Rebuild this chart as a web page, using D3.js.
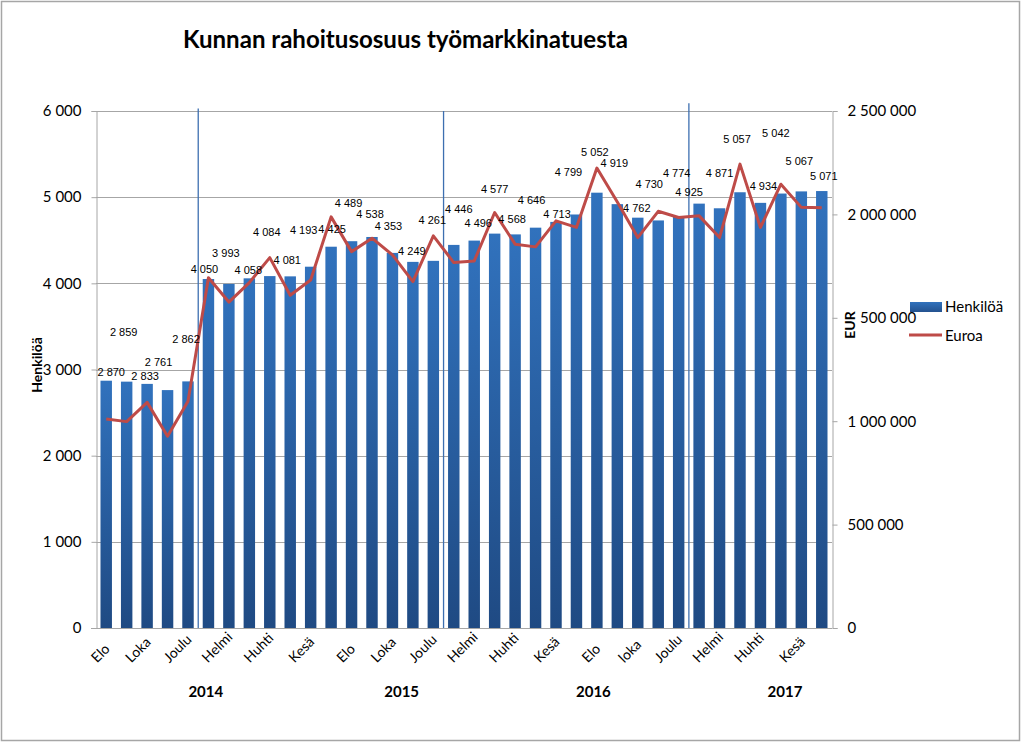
<!DOCTYPE html>
<html><head><meta charset="utf-8">
<script src="https://cdn.jsdelivr.net/npm/d3@7"></script>
<style>body{margin:0;background:#fff} svg{display:block}</style>
</head><body><svg id="c" width="1024" height="743"></svg>
<script>
// ---- data ----
const months = ["Elo","Syys","Loka","Marras","Joulu","Tammi","Helmi","Maalis","Huhti","Touko","Kesä","Heinä",
                "Elo","Syys","Loka","Marras","Joulu","Tammi","Helmi","Maalis","Huhti","Touko","Kesä","Heinä",
                "Elo","Syys","loka","Marras","Joulu","Tammi","Helmi","Maalis","Huhti","Touko","Kesä","Heinä"];
const henkiloa = [2870,2859,2833,2761,2862,4050,3993,4058,4084,4081,4193,4425,
                  4489,4538,4353,4249,4261,4446,4496,4577,4568,4646,4713,4799,
                  5052,4919,4762,4730,4774,4925,4871,5057,4934,5042,5067,5071];
const euroa = [1011000,998000,1091000,927000,1096000,1694000,1576000,1670000,1791000,1609000,1683000,1988000,
               1820000,1885000,1804000,1675000,1896000,1767000,1775000,2009000,1856000,1843000,1969000,1937000,
               2224000,2060000,1888000,2015000,1985000,1993000,1888000,2243000,1937000,2146000,2034000,2032000];
const years = ["2014","2015","2016","2017"];
const leftTicks = [0,1000,2000,3000,4000,5000,6000];
const rightTicks = [0,500000,1000000,1500000,2000000,2500000];
const seriesNames = ["Henkilöä","Euroa"];
const titleText = "Kunnan rahoitusosuus työmarkkinatuesta";

// ---- layout (placement of annotations, not data) ----
const yearAt = [4.87, 14.45, 23.83, 33.2];          // category index where year label sits
const separatorsAfter = [4, 16, 28];                  // year boundary after this category
const separatorTop = [6030, 6000, 6090];              // top of separator, left-axis units
const labelLevel = [2971,3435,2924,3087,3354,4166,4352,4155,4596,4271,4619,4630,
                    4932,4805,4666,4376,4736,4863,4700,5095,4747,4968,4805,5293,
                    5524,5397,4875,5153,5281,5060,5281,5675,5130,5745,5420,5245];
const labelNudge = [5,-3,-2,-9,-2,-4,-3,-1,-3,-3,-7,1,
                    -3,-2,-4,-1,-1,5,4,0,-3,-4,1,-8,
                    -2,-3,-1,-9,-2,-10,0,-3,3,-5,-2,2];

const W = 1024, H = 743;
const P = {left: 96, right: 832, top: 111, bottom: 628};
const svg = d3.select("#c");
const loc = d3.formatLocale({decimal: ",", thousands: " ", grouping: [3], currency: ["", ""]});
const fmt = loc.format(",");
const LATO = "Lato, 'Open Sans', sans-serif";

svg.append("rect").attr("x", 0).attr("y", 0).attr("width", W).attr("height", H).attr("fill", "#fff");
svg.append("rect").attr("x", 1.5).attr("y", 1.5).attr("width", 1018).attr("height", 739)
   .attr("fill", "none").attr("stroke", "#a6a6a6").attr("stroke-width", 1.5);

const x = d3.scaleBand().domain(d3.range(months.length)).range([P.left, P.right])
  .paddingInner(0.44).paddingOuter(0.22);
const xc = i => x(i) + x.bandwidth() / 2;
const xFrac = f => P.left + x.step() * (f + 0.5);
const yL = d3.scaleLinear().domain([0, 6000]).range([P.bottom, P.top]);
const yR = d3.scaleLinear().domain([0, 2500000]).range([P.bottom, P.top]);

// gradient
const defs = svg.append("defs");
const g1 = defs.append("linearGradient").attr("id", "barGrad").attr("x1", 0).attr("y1", 0).attr("x2", 0).attr("y2", 1);
g1.append("stop").attr("offset", "0%").attr("stop-color", "#3172bd");
g1.append("stop").attr("offset", "100%").attr("stop-color", "#1f4a83");
const g2 = defs.append("linearGradient").attr("id", "legGrad").attr("x1", 0).attr("y1", 0).attr("x2", 0).attr("y2", 1);
g2.append("stop").attr("offset", "0%").attr("stop-color", "#3172bd");
g2.append("stop").attr("offset", "100%").attr("stop-color", "#24528f");

// gridlines
svg.append("g").selectAll("line").data(leftTicks.filter(d => d > 0)).join("line")
  .attr("x1", P.left).attr("x2", P.right)
  .attr("y1", d => Math.round(yL(d)) + 0.5).attr("y2", d => Math.round(yL(d)) + 0.5)
  .attr("stroke", "#a6a6a6").attr("stroke-width", 1);

// left axis
const axL = svg.append("g").attr("transform", `translate(${P.left + 0.5},0)`)
  .call(d3.axisLeft(yL).tickValues(leftTicks).tickFormat(fmt).tickSize(5).tickPadding(10));
axL.select(".domain").attr("stroke", "#a6a6a6");
axL.selectAll(".tick line").attr("stroke", "#a6a6a6");
axL.selectAll("text").attr("font-family", LATO).attr("font-size", 15).attr("fill", "#000");

// right axis
const axR = svg.append("g").attr("transform", `translate(${P.right + 0.5},0)`)
  .call(d3.axisRight(yR).tickValues(rightTicks).tickFormat(fmt).tickSize(5).tickPadding(10));
axR.select(".domain").attr("stroke", "#a6a6a6");
axR.selectAll(".tick line").attr("stroke", "#a6a6a6");
axR.selectAll("text").attr("font-family", LATO).attr("font-size", 15).attr("fill", "#000");

// bottom axis line
svg.append("line").attr("x1", P.left - 5).attr("x2", P.right).attr("y1", P.bottom + 0.5).attr("y2", P.bottom + 0.5)
  .attr("stroke", "#a6a6a6");

// bars
svg.append("g").selectAll("rect").data(henkiloa).join("rect")
  .attr("x", (d, i) => x(i)).attr("width", x.bandwidth())
  .attr("y", d => yL(d)).attr("height", d => yL(0) - yL(d))
  .attr("fill", "url(#barGrad)");

// year separators
svg.append("g").selectAll("line").data(separatorsAfter).join("line")
  .attr("x1", d => (xc(d) + xc(d + 1)) / 2).attr("x2", d => (xc(d) + xc(d + 1)) / 2)
  .attr("y1", (d, i) => yL(separatorTop[i])).attr("y2", P.bottom)
  .attr("stroke", "#3d6fb0").attr("stroke-width", 1.3);

// line
const line = d3.line().x((d, i) => xc(i)).y(d => yR(d));
svg.append("path").datum(euroa).attr("d", line).attr("fill", "none")
  .attr("stroke", "#be4b48").attr("stroke-width", 3).attr("stroke-linejoin", "round");

// data labels
svg.append("g").selectAll("text").data(henkiloa).join("text")
  .attr("x", (d, i) => xc(i) + labelNudge[i]).attr("y", (d, i) => yL(labelLevel[i]))
  .attr("dy", "0.35em").attr("text-anchor", "middle")
  .attr("font-family", "'Liberation Sans', Arial, sans-serif").attr("font-size", 11).attr("fill", "#000")
  .text(d => fmt(d));

// month labels (every other), rotated -45
const mg = svg.append("g");
months.forEach((m, i) => {
  if (i % 2 !== 0) return;
  const t = mg.append("text").attr("font-family", LATO).attr("font-size", 14).attr("fill", "#000")
    .attr("text-anchor", "end").attr("dy", "0.35em").text(m);
  const w = t.node().getComputedTextLength();
  const ax = xc(i) + 1, ay = 660 - 0.707 * w;
  t.attr("transform", `translate(${ax},${ay}) rotate(-45)`);
});

// year labels
svg.append("g").selectAll("text").data(years).join("text")
  .attr("x", (d, i) => xFrac(yearAt[i])).attr("y", 697).attr("text-anchor", "middle")
  .attr("font-family", LATO).attr("font-weight", "bold").attr("font-size", 15).attr("fill", "#000")
  .text(d => d);

// axis titles
svg.append("text").attr("transform", "translate(42,365) rotate(-90)").attr("text-anchor", "middle")
  .attr("font-family", LATO).attr("font-weight", "bold").attr("font-size", 14).attr("fill", "#000")
  .text("Henkilöä");
svg.append("rect").attr("x", 843).attr("y", 310).attr("width", 14).attr("height", 30).attr("fill", "#fff");
svg.append("text").attr("transform", "translate(855,325) rotate(-90)").attr("text-anchor", "middle")
  .attr("font-family", LATO).attr("font-weight", "bold").attr("font-size", 14).attr("fill", "#000")
  .text("EUR");

// legend
const leg = svg.append("g");
leg.append("rect").attr("x", 910).attr("y", 302).attr("width", 32).attr("height", 10).attr("fill", "url(#legGrad)");
leg.append("text").attr("x", 945).attr("y", 307).attr("dy", "0.35em").attr("font-family", LATO).attr("font-size", 15)
  .attr("fill", "#000").text(seriesNames[0]);
leg.append("line").attr("x1", 909).attr("x2", 942).attr("y1", 335).attr("y2", 335)
  .attr("stroke", "#be4b48").attr("stroke-width", 3);
leg.append("text").attr("x", 945).attr("y", 336).attr("dy", "0.35em").attr("font-family", LATO).attr("font-size", 15)
  .attr("fill", "#000").text(seriesNames[1]);

// title
const title = svg.append("text").attr("x", 405.5).attr("y", 48).attr("text-anchor", "middle")
  .attr("font-family", LATO).attr("font-weight", "bold").attr("font-size", 24).attr("fill", "#000")
  .text(titleText);
const tw = title.node().getComputedTextLength();
title.attr("font-size", 24 * 445 / tw);
</script></body></html>
